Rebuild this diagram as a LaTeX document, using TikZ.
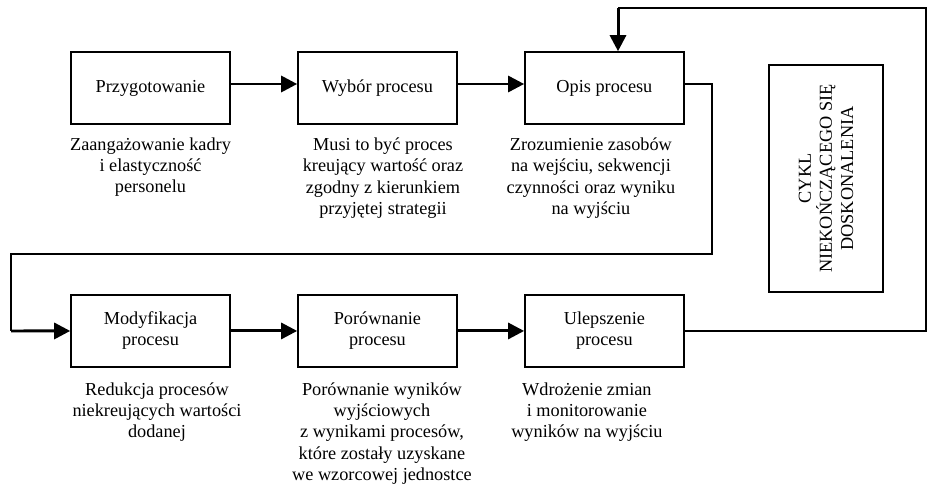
\documentclass[tikz,border=0pt]{standalone}
\usepackage{fontspec}
\setmainfont{Liberation Serif}
\usepackage{tikz}
\usetikzlibrary{positioning, arrows.meta}
\tikzstyle{process} = [rectangle, minimum width = 3.18cm, minimum height =
  1.44cm, text centered, align = center, draw = black, line width = 0.9pt]
\tikzstyle{note} = [align = center, inner sep = 0pt]
\tikzstyle{loopbox} = [rectangle, minimum width = 2.28cm, minimum height =
  4.54cm, draw = black, line width = 0.9pt]
\tikzstyle{arrow} = [line width = 1.7pt, -{Triangle[length = 0.32cm, width =
  0.32cm]}]
\tikzstyle{link} = [line width = 0.7pt]

\begin{document}
\begin{tikzpicture}[x = 0.02cm, y = -0.02cm, node distance = 4.54cm,
  font = \fontsize{10.4}{12}\selectfont]
  \useasboundingbox (0,0) rectangle (928,486);

  % upper row
  \node (prep) [process] at (150.5,88) {Przygotowanie};
  \node (wybor) [process, right of = prep] {Wybór procesu};
  \node (opis) [process, right of = wybor] {Opis procesu};

  % lower row
  \node (modyf) [process, below of = prep, yshift = -0.32cm]
    {Modyfikacja\\procesu};
  \node (porown) [process, right of = modyf] {Porównanie\\procesu};
  \node (ulep) [process, right of = porown] {Ulepszenie\\procesu};

  \node (cykl) [loopbox] at (826,178.5) {};
  \node [rotate = 90, align = center] at (cykl.center)
    {CYKL\\NIEKOŃCZĄCEGO SIĘ\\DOSKONALENIA};

  % notes under the boxes
  \node (note-prep) [note, below = 0.26cm of prep]
    {Zaangażowanie kadry\\i elastyczność\\personelu};
  \node (note-wybor) [note, below = 0.26cm of wybor, xshift = 0.11cm]
    {Musi to być proces\\kreujący wartość oraz\\zgodny z kierunkiem\\przyjętej strategii};
  \node (note-opis) [note, below = 0.26cm of opis, xshift = -0.27cm]
    {Zrozumienie zasobów\\na wejściu, sekwencji\\czynności oraz wyniku\\na wyjściu};
  \node (note-modyf) [note, below = 0.3cm of modyf, xshift = 0.13cm]
    {Redukcja procesów\\niekreujących wartości\\dodanej};
  \node (note-porown) [note, below = 0.3cm of porown, xshift = 0.09cm]
    {Porównanie wyników\\wyjściowych\\z wynikami procesów,\\które zostały uzyskane\\we wzorcowej jednostce};
  \node (note-ulep) [note, below = 0.3cm of ulep, xshift = -0.35cm]
    {Wdrożenie zmian\\i monitorowanie\\wyników na wyjściu};

  \coordinate (turn-a) at (712,254);
  \coordinate (turn-b) at (11,331);
  \coordinate (back-a) at (926,8);
  \coordinate (back-b) at (618,8);

  \draw [arrow] ([yshift = 0.08cm]prep.east) -- ([yshift = 0.08cm]wybor.west);
  \draw [arrow] ([yshift = 0.08cm]wybor.east) -- ([yshift = 0.08cm]opis.west);
  \draw [link] ([yshift = 0.08cm]opis.east) -| (turn-a) -| (turn-b);
  \draw [arrow] (turn-b) -- (modyf.west);
  \draw [arrow] (modyf) -- (porown);
  \draw [arrow] (porown) -- (ulep);
  \draw [link] (ulep.east) -| (back-a) -- (back-b);
  \draw [arrow] (back-b) -- (back-b |- opis.north);
\end{tikzpicture}
\end{document}
